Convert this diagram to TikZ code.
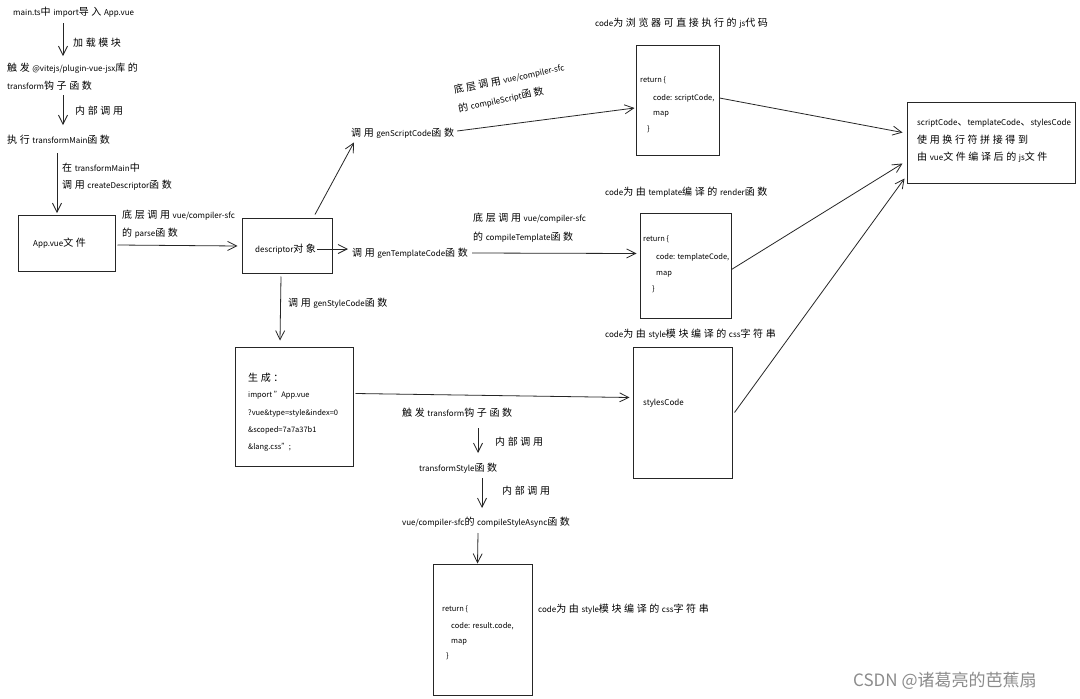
\documentclass[tikz,border=0pt]{standalone}
\usepackage{fontspec}
\setmainfont{Noto Sans CJK SC}
\usetikzlibrary{arrows.meta,calc}
\newcommand\zhsp{\hspace{2.6pt}}
\makeatletter
\newcommand\zh[1]{{\fontsize{10}{12}\selectfont\zh@loop#1\relax}}
\def\zh@loop#1{\ifx#1\relax\else#1\zhsp\expandafter\zh@loop\fi}
\makeatother
\tikzset{
  txt/.style={anchor=west, inner sep=0pt, font=\fontsize{8}{10}\selectfont},
  codetxt/.style={anchor=west, inner sep=0pt, font=\fontsize{7.5}{9}\selectfont},
  box/.style={draw=black!85, line width=1pt, inner sep=0pt},
  arr/.style={draw=black!85, line width=0.8pt, -{Straight Barb[length=9pt,width=9pt,line width=0.8pt]}},
}
\begin{document}
\begin{tikzpicture}[x=1pt,y=-1pt]
\fill[white] (0,0) rectangle (1080,699);
\useasboundingbox (0,0) rectangle (1080,699);

% ---- top flow
\node[txt] (t1) at (13,12) {main.ts\zh{中}import\zh{导入}App.vue};
\node[txt] (lab1) at (73,43) {\zh{加载模块}};
\node[txt] (t2a) at (7,68) {\zh{触发}@vitejs/plugin-vue-jsx\zh{库的}};
\node[txt] (t2b) at (7,86) {transform\zh{钩子函数}};
\node[txt] (lab2) at (75,111) {\zh{内部调用}};
\node[txt] (t3) at (7,140) {\zh{执行}transformMain\zh{函数}};
\node[txt] (lab3a) at (62,168) {\zh{在}transformMain\zh{中}};
\node[txt] (lab3b) at (62,185) {\zh{调用}createDescriptor\zh{函数}};
\coordinate (a1s) at (63,23); \coordinate (a1e) at (63,56);
\coordinate (a2s) at (63,95); \coordinate (a2e) at (63,125);
\coordinate (a3s) at (57,153); \coordinate (a3e) at (57,213);
\draw[arr] (a1s) -- (a1e);
\draw[arr] (a2s) -- (a2e);
\draw[arr] (a3s) -- (a3e);

% ---- boxes
\node[box, minimum width=97pt, minimum height=56pt] (app) at (66.5,243) {};
\node[box, minimum width=90pt, minimum height=55pt] (desc) at (287,245.5) {};
\node[box, minimum width=83pt, minimum height=110pt] (sbox) at (677.5,100) {};
\node[box, minimum width=168pt, minimum height=81pt] (fbox) at (991,142.5) {};
\node[box, minimum width=91pt, minimum height=105pt] (tbox) at (685.5,265.5) {};
\node[box, minimum width=99pt, minimum height=131pt] (stbox) at (682.5,412.5) {};
\node[box, minimum width=118pt, minimum height=119pt] (gbox) at (294,406.5) {};
\node[box, minimum width=99pt, minimum height=131pt] (bbox) at (482.5,629.5) {};

% ---- box texts
\node[txt] (apptext) at (33,243) {App.vue\zh{文件}};
\node[txt] (dtext) at (255,249) {descriptor\zh{对象}};

\node[codetxt] (s1) at (640,80) {return \{};
\node[codetxt] (s2) at (653,98) {code: scriptCode,};
\node[codetxt] (s3) at (653,114) {map};
\node[codetxt] (s4) at (647,129) {\}};

\node[codetxt] (tb1) at (643,239) {return \{};
\node[codetxt] (tb2) at (656,257) {code: templateCode,};
\node[codetxt] (tb3) at (656,274) {map};
\node[codetxt] (tb4) at (652,289) {\}};

\node[txt] (stext) at (643,403) {stylesCode};

\node[txt] (f1) at (917,123) {scriptCode{\fontsize{10}{12}\selectfont 、}templateCode{\fontsize{10}{12}\selectfont 、}stylesCode};
\node[txt] (f2) at (917,140) {\zh{使用换行符拼接得到}};
\node[txt] (f3) at (917,157) {\zh{由}vue\zh{文件编译后的}js\zh{文件}};

\node[txt] (g1) at (248,378) {\zh{生成：}};
\node[codetxt] (g2) at (248,395) {import "App.vue};
\node[codetxt] (g3) at (248,413) {?vue\&type=style\&index=0};
\node[codetxt] (g4) at (248,430) {\&scoped=7a7a37b1};
\node[codetxt] (g5) at (248,447) {\&lang.css";};

\node[codetxt] (b1) at (442,609) {return \{};
\node[codetxt] (b2) at (451,626) {code: result.code,};
\node[codetxt] (b3) at (451,642) {map};
\node[codetxt] (b4) at (446,656) {\}};

% ---- labels
\node[txt] (pa) at (122,215) {\zh{底层调用}vue/compiler-sfc};
\node[txt] (pb) at (122,233) {\zh{的}parse\zh{函数}};
\node[txt] (gs) at (351,133) {\zh{调用}genScriptCode\zh{函数}};
\node[txt] (gt) at (352,253) {\zh{调用}genTemplateCode\zh{函数}};
\node[txt, anchor=center, rotate=12] (rla) at (509,79) {\zh{底层调用}vue/compiler-sfc};
\node[txt, anchor=center, rotate=12] (rlb) at (501,100) {\zh{的}compileScript\zh{函数}};
\node[txt] (cta) at (473,218) {\zh{底层调用}vue/compiler-sfc};
\node[txt] (ctb) at (473,237) {\zh{的}compileTemplate\zh{函数}};
\node[txt] (sh) at (595,23) {code\zh{为浏览器可直接执行的}js\zh{代码}};
\node[txt] (th) at (605,192) {code\zh{为由}template\zh{编译的}render\zh{函数}};
\node[txt] (stl) at (605,334) {code\zh{为由}style\zh{模块编译的}css\zh{字符串}};
\node[txt] (gsl) at (288,303) {\zh{调用}genStyleCode\zh{函数}};
\node[txt] (tt) at (402,413) {\zh{触发}transform\zh{钩子函数}};
\node[txt] (lab4) at (495,442) {\zh{内部调用}};
\node[txt] (ts) at (419,468) {transformStyle\zh{函数}};
\node[txt] (lab5) at (502,491) {\zh{内部调用}};
\node[txt] (cs) at (402,522) {vue/compiler-sfc\zh{的}compileStyleAsync\zh{函数}};
\node[txt] (bl) at (538,609) {code\zh{为由}style\zh{模块编译的}css\zh{字符串}};

\coordinate (a4s) at (478,428); \coordinate (a4e) at (478,453);
\coordinate (a5s) at (482,478); \coordinate (a5e) at (482,508);
\coordinate (a6s) at (478,533);
\draw[arr] (a4s) -- (a4e);
\draw[arr] (a5s) -- (a5e);
\draw[arr] (a6s) -- ($(bbox.north)+(-5,0)$);

% ---- connectors
\draw[arr] ($(app.east)+(2,2)$) -- ($(desc.west)+(-4,0.5)$);
\draw[arr] ($(desc.north)+(28,-3)$) -- ($(gs.south west)+(3,4)$);
\draw[arr] ($(gs.east)+(3,-2)$) -- ($(sbox.west)+(-1,8)$);
\draw[arr] ($(dtext.east)+(1,0)$) -- ($(gt.west)+(-4,-4)$);
\draw[arr] ($(gt.east)+(4,0)$) -- ($(tbox.west)+(-3,-12)$);
\draw[arr] ($(sbox.east)+(0,-2)$) -- ($(fbox.west)+(-4,-10)$);
\draw[arr] ($(tbox.east)+(0,4)$) -- ($(fbox.west)+(-4,21)$);
\draw[arr] ($(stbox.east)+(2,0)$) -- ($(fbox.south west)+(-2,-5)$);
\draw[arr] ($(desc.south)+(-6,3)$) -- ($(gbox.north)+(-14,-6)$);
\draw[arr] ($(gbox.east)+(2,-13)$) -- ($(stbox.west)+(-3,-15)$);

% ---- watermark
\node[anchor=west, inner sep=0pt, text=black!45, font=\fontsize{17}{20}\selectfont] (wm) at (853,681) {CSDN @诸葛亮的芭蕉扇};
\end{tikzpicture}
\end{document}
